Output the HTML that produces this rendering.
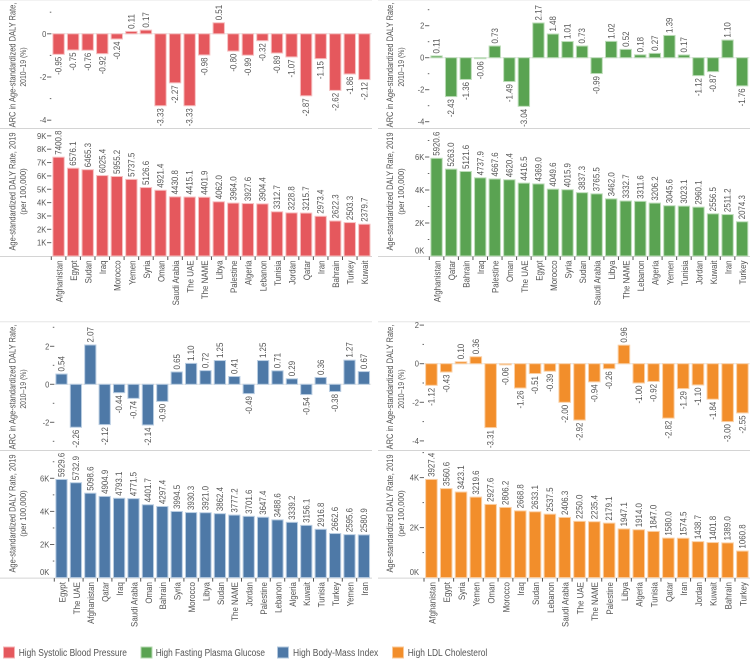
<!DOCTYPE html>
<html lang="en">
<head>
<meta charset="utf-8">
<title>DALY rates and ARC by country and risk factor</title>
<style>
html,body{margin:0;padding:0;background:#fff;}
svg{display:block;font-family:"Liberation Sans",sans-serif;}
</style>
</head>
<body>
<svg id="chart" width="750" height="671" viewBox="0 0 750 671" xmlns="http://www.w3.org/2000/svg">
  <g>
    <g>
      <rect x="3.5" y="647" width="11" height="11" fill="#e5585d" stroke="#f4b4b6"/>
      <text x="18.7" y="656" font-size="10" fill="#555" textLength="108.3" lengthAdjust="spacingAndGlyphs">High Systolic Blood Pressure</text>
    </g>
    <g>
      <rect x="141" y="647" width="11" height="11" fill="#5aa352" stroke="#b5d8b1"/>
      <text x="155.7" y="656" font-size="10" fill="#555" textLength="109.3" lengthAdjust="spacingAndGlyphs">High Fasting Plasma Glucose</text>
    </g>
    <g>
      <rect x="277.5" y="647" width="11" height="11" fill="#4e79a7" stroke="#b3c8de"/>
      <text x="293" y="656" font-size="10" fill="#555" textLength="85.3" lengthAdjust="spacingAndGlyphs">High Body-Mass Index</text>
    </g>
    <g>
      <rect x="392.5" y="647" width="11" height="11" fill="#f28e2b" stroke="#f9c999"/>
      <text x="407.7" y="656" font-size="10" fill="#555" textLength="79.6" lengthAdjust="spacingAndGlyphs">High LDL Cholesterol</text>
    </g>
  </g>
</svg>
<script>
const sbpCountries = ["Afghanistan","Egypt","Sudan","Iraq","Morocco","Yemen","Syria","Oman","Saudi Arabia","The UAE","The NAME","Libya","Palestine","Algeria","Lebanon","Tunisia","Jordan","Qatar","Iran","Bahrain","Turkey","Kuwait"];
const sbpArc = [-0.95,-0.75,-0.76,-0.92,-0.24,0.11,0.17,-3.33,-2.27,-3.33,-0.98,0.51,-0.80,-0.99,-0.32,-0.89,-1.07,-2.87,-1.15,-2.62,-1.86,-2.12];
const sbpRate = [7400.8,6576.1,6465.3,6025.4,5955.2,5737.5,5126.6,4921.4,4430.8,4415.1,4401.9,4062.0,3964.0,3927.6,3904.4,3312.7,3228.8,3215.7,2973.4,2622.3,2503.3,2379.7];

const fpgCountries = ["Afghanistan","Qatar","Bahrain","Iraq","Palestine","Oman","The UAE","Egypt","Morocco","Syria","Sudan","Saudi Arabia","Libya","The NAME","Lebanon","Algeria","Yemen","Tunisia","Jordan","Kuwait","Iran","Turkey"];
const fpgArc = [0.11,-2.43,-1.36,-0.06,0.73,-1.49,-3.04,2.17,1.48,1.01,0.73,-0.99,1.02,0.52,0.18,0.27,1.39,0.17,-1.12,-0.87,1.10,-1.76];
const fpgRate = [5920.6,5263.0,5121.6,4737.9,4667.6,4620.4,4416.5,4369.0,4049.6,4015.9,3837.3,3765.5,3462.0,3332.7,3311.6,3206.2,3045.6,3023.1,2960.1,2556.5,2511.2,2074.3];

const bmiCountries = ["Egypt","The UAE","Afghanistan","Qatar","Iraq","Saudi Arabia","Oman","Bahrain","Syria","Morocco","Libya","Sudan","The NAME","Jordan","Palestine","Lebanon","Algeria","Kuwait","Tunisia","Turkey","Yemen","Iran"];
const bmiArc = [0.54,-2.26,2.07,-2.12,-0.44,-0.74,-2.14,-0.90,0.65,1.10,0.72,1.25,0.41,-0.49,1.25,0.71,0.29,-0.54,0.36,-0.38,1.27,0.67];
const bmiRate = [5929.6,5732.9,5098.6,4904.9,4793.1,4771.5,4401.7,4297.4,3994.5,3930.3,3921.0,3862.4,3777.2,3701.6,3647.4,3488.6,3339.2,3156.1,2916.8,2662.6,2595.6,2580.9];

const ldlCountries = ["Afghanistan","Egypt","Syria","Yemen","Oman","Morocco","Iraq","Sudan","Lebanon","Saudi Arabia","The UAE","The NAME","Palestine","Libya","Algeria","Tunisia","Qatar","Iran","Jordan","Kuwait","Bahrain","Turkey"];
const ldlArc = [-1.12,-0.43,0.10,0.36,-3.31,-0.06,-1.26,-0.51,-0.39,-2.00,-2.92,-0.94,-0.26,0.96,-1.00,-0.92,-2.82,-1.29,-1.10,-1.84,-3.00,-2.55];
const ldlRate = [3927.4,3560.6,3423.1,3219.6,2927.6,2806.2,2668.8,2633.1,2537.5,2406.3,2250.0,2235.4,2179.1,1947.1,1914.0,1847.0,1580.0,1574.5,1438.7,1401.8,1389.0,1060.8];

const sbpArcMajorTicks = [0,-2,-4];
const sbpArcMinorTicks = [1,-1,-3];
const sbpRateMajorTicks = [1,2,3,4,5,6,7,8,9];
const sbpRateMinorTicks = [];
const fpgArcMajorTicks = [2,0,-2,-4];
const fpgArcMinorTicks = [3,1,-1,-3];
const fpgRateMajorTicks = [0,2,4,6];
const fpgRateMinorTicks = [1,3,5,7];
const bmiArcMajorTicks = [2,0,-2];
const bmiArcMinorTicks = [3,1,-1,-3];
const bmiRateMajorTicks = [0,2,4,6];
const bmiRateMinorTicks = [1,3,5,7];
const ldlArcMajorTicks = [2,0,-2,-4];
const ldlArcMinorTicks = [1,-1,-3];
const ldlRateMajorTicks = [0,2,4];
const ldlRateMinorTicks = [1,3,5];

const arcTitleLines = ["ARC in Age-standardized DALY Rate,","2010\u201319 (%)"];
const rateTitleLines = ["Age-standardized DALY Rate, 2019","(per 100,000)"];

const NS = "http://www.w3.org/2000/svg";
const svg = document.getElementById("chart");

function make(parent, tag, attrs, text) {
  const node = document.createElementNS(NS, tag);
  for (const k in attrs) node.setAttribute(k, attrs[k]);
  if (text !== undefined) node.textContent = text;
  parent.appendChild(node);
  return node;
}

function linearY(zero, perUnit) {
  return function (v) { return zero - v * perUnit; };
}

function bandX(left, step) {
  return function (i) { return left + step * (i + 0.5); };
}

function vText(parent, x, y, anchor, size, str, squeeze) {
  return make(parent, "text", {
    x: 0, y: 0, "text-anchor": anchor, "font-size": size, fill: "#555", dy: "0.35em",
    transform: "translate(" + x + " " + y + ") rotate(-90) scale(" + (squeeze || 0.9) + " 1)"
  }, str);
}

function drawYAxis(g, o, y, majors, minors, suffix) {
  majors.forEach(function (t) {
    const atZeroK = suffix === "K" && t === 0;
    if (!atZeroK) {
      const tk = make(g, "line", { x1: o.left - 4.3, x2: o.left, y1: y(t), y2: y(t), stroke: "#666", "stroke-width": 1 });
      
      
    }
    const ly = atZeroK ? y(t) - 5.5 : y(t);
    const lb = make(g, "text", {
      x: 0, y: 0, dy: "0.35em", "text-anchor": "end", "font-size": 8.6, fill: "#555",
      transform: "translate(" + (o.left - 5) + " " + ly + ") scale(0.88 1)"
    }, t + suffix);
    
    
  });
  minors.forEach(function (t) {
    const tk = make(g, "line", { x1: o.left - 1.5, x2: o.left, y1: y(t), y2: y(t), stroke: "#666", "stroke-width": 1 });
    
    
  });
}

function drawBars(g, o, x, y, values, fmt) {
  const w = o.step * 0.78;
  values.forEach(function (v, i) {
    const y0 = y(0), y1 = y(v);
    const bar = make(g, "rect", {
      x: x(i) - w / 2, y: Math.min(y0, y1), width: w, height: Math.abs(y1 - y0),
      fill: o.color, stroke: o.edge, "stroke-width": 1
    });
    
    
    const positive = v >= 0;
    const lab = vText(g, x(i), positive ? y1 - 2.5 : y1 + 2.5, positive ? "start" : "end", 8.8, v.toFixed(fmt));
    
    
  });
}

function drawTitle(g, lines, x1, x2, cy1, cy2, squeeze1, squeeze2) {
  const a = vText(g, x1, cy1, "middle", 8.8, lines[0], squeeze1);
  
  
  const b = vText(g, x2, cy2, "middle", 8.6, lines[1], squeeze2);
  
  
}

function drawPanel(o) {
  const g = make(svg, "g", {});
  
  

  const x = bandX(o.left, o.step);
  const yTop = linearY(o.arcZero, o.arcPerUnit);
  const yBot = linearY(o.rateBase, o.ratePerK / 1000);
  const yBotK = linearY(o.rateBase, o.ratePerK);

  const rule1 = make(g, "line", { x1: o.ruleL, x2: o.ruleR, y1: o.topRule, y2: o.topRule, stroke: "#e6e6e6", "stroke-width": 1 });
  
  
  const rule2 = make(g, "line", { x1: o.ruleL, x2: o.ruleR, y1: o.midRule, y2: o.midRule, stroke: "#d4d4d4", "stroke-width": 1 });
  
  
  const rule3 = make(g, "line", { x1: o.ruleL, x2: o.ruleR, y1: o.rateBase + 0.5, y2: o.rateBase + 0.5, stroke: "#d4d4d4", "stroke-width": 1 });
  
  
  const zero = make(g, "line", { x1: o.left, x2: o.left + o.step * 22, y1: yTop(0), y2: yTop(0), stroke: "#e4e4e4", "stroke-width": 1 });
  
  

  drawTitle(g, arcTitleLines, o.titleX1, o.titleX2, o.arcTitleY, o.arcTitleY + 2, 0.85, 0.8);
  drawTitle(g, rateTitleLines, o.titleX1, o.titleX2, o.rateTitleY, o.rateTitleY, 0.85, 0.9);

  drawYAxis(g, o, yTop, o.arcMajor, o.arcMinor, "");
  drawYAxis(g, o, yBotK, o.rateMajor, o.rateMinor, "K");

  drawBars(g, o, x, yTop, o.arc, 2);
  drawBars(g, o, x, yBot, o.rate, 1);

  o.countries.forEach(function (c, i) {
    const tx = o.left + o.step * i;
    const tk = make(g, "line", { x1: tx, x2: tx, y1: o.rateBase + 0.5, y2: o.rateBase + 4, stroke: "#555", "stroke-width": 1 });
    
    
    const lab = vText(g, x(i) + 0.8, o.rateBase + 4.5, "end", 8.8, c);
    
    
  });
}

drawPanel({
  name: "panel-systolic-blood-pressure", countries: sbpCountries, arc: sbpArc, rate: sbpRate,
  arcMajor: sbpArcMajorTicks, arcMinor: sbpArcMinorTicks, rateMajor: sbpRateMajorTicks, rateMinor: sbpRateMinorTicks,
  color: "#e5585d", edge: "#f6bfc0", left: 51.3, step: 14.56,
  arcZero: 33.8, arcPerUnit: 21.6, rateBase: 256, ratePerK: 13.35,
  ruleL: 0, ruleR: 372, topRule: 0, midRule: 128.5,
  titleX1: 12.6, titleX2: 22.8, arcTitleY: 65, rateTitleY: 191.5
});
drawPanel({
  name: "panel-fasting-plasma-glucose", countries: fpgCountries, arc: fpgArc, rate: fpgRate,
  arcMajor: fpgArcMajorTicks, arcMinor: fpgArcMinorTicks, rateMajor: fpgRateMajorTicks, rateMinor: fpgRateMinorTicks,
  color: "#5aa352", edge: "#bcdcb8", left: 429.3, step: 14.55,
  arcZero: 57.7, arcPerUnit: 16, rateBase: 256, ratePerK: 16.5,
  ruleL: 378, ruleR: 750, topRule: 0, midRule: 128.5,
  titleX1: 390, titleX2: 400.8, arcTitleY: 65, rateTitleY: 191.5
});
drawPanel({
  name: "panel-body-mass-index", countries: bmiCountries, arc: bmiArc, rate: bmiRate,
  arcMajor: bmiArcMajorTicks, arcMinor: bmiArcMinorTicks, rateMajor: bmiRateMajorTicks, rateMinor: bmiRateMinorTicks,
  color: "#4e79a7", edge: "#b9cde2", left: 54.3, step: 14.4,
  arcZero: 384.3, arcPerUnit: 19, rateBase: 577.6, ratePerK: 16.55,
  ruleL: 0, ruleR: 372, topRule: 321.7, midRule: 450.5,
  titleX1: 12.4, titleX2: 22.8, arcTitleY: 387, rateTitleY: 513.5
});
drawPanel({
  name: "panel-ldl-cholesterol", countries: ldlCountries, arc: ldlArc, rate: ldlRate,
  arcMajor: ldlArcMajorTicks, arcMinor: ldlArcMinorTicks, rateMajor: ldlRateMajorTicks, rateMinor: ldlRateMinorTicks,
  color: "#f28e2b", edge: "#fad0a6", left: 424, step: 14.81,
  arcZero: 363.7, arcPerUnit: 19.3, rateBase: 577.6, ratePerK: 25,
  ruleL: 378, ruleR: 750, topRule: 321.7, midRule: 450.5,
  titleX1: 390, titleX2: 401, arcTitleY: 387, rateTitleY: 513.5
});
</script>
</body>
</html>
